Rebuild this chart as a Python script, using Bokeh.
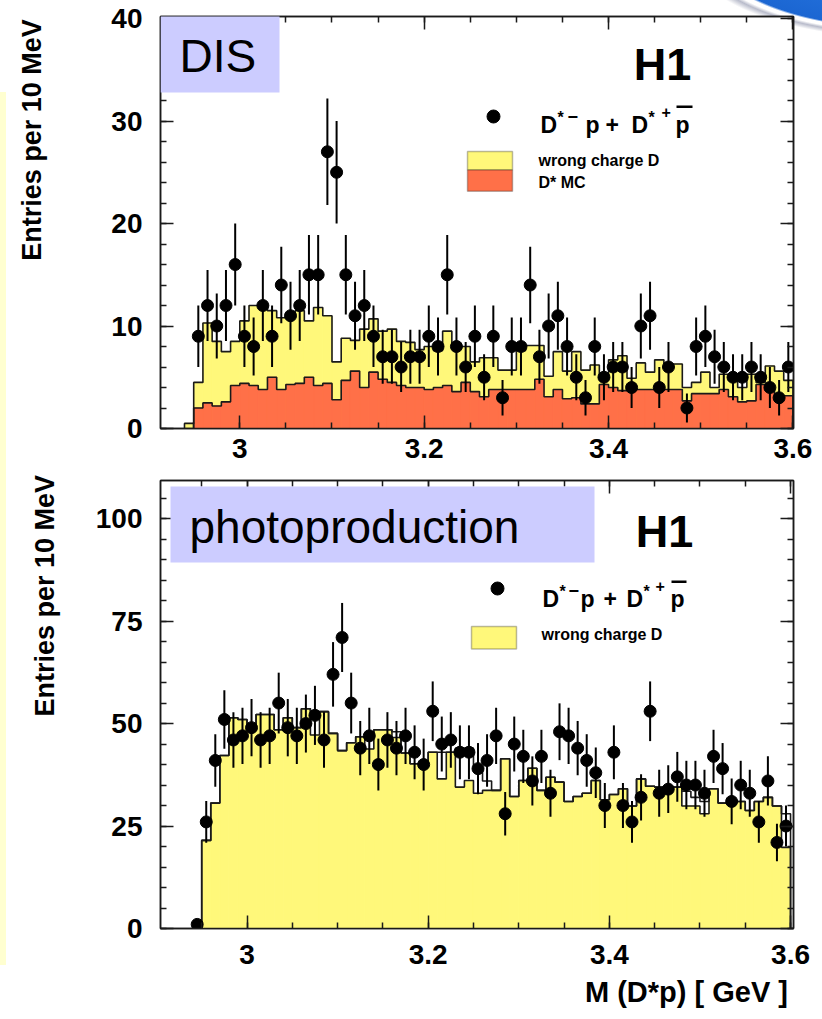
import numpy as np
from bokeh.plotting import figure
from bokeh.models import Range1d, LinearAxis, Label, FixedTicker, BoxAnnotation
from bokeh.layouts import column
from bokeh.embed import file_html
from bokeh.resources import INLINE

# ---------------- data ----------------
# histogram bins: 10 MeV wide, low edges from 2.94 GeV
bin_low = np.round(2.94 + 0.01 * np.arange(66), 3)

dis_wrong_charge = [0.5, 4.5, 10.3, 8.5, 7.5, 8.5, 10.5, 12.0, 12.0, 11.5, 10.8, 11.2, 11.5, 10.5, 11.8, 11.0,
                    6.5, 8.8, 8.6, 9.7, 10.7, 9.5, 9.7, 8.5, 8.4, 7.7, 8.0, 7.6, 9.5, 7.8, 8.0, 6.5,
                    6.9, 6.9, 5.7, 5.7, 7.6, 8.1, 8.1, 5.1, 7.5, 5.6, 7.5, 5.7, 6.2, 4.8, 6.7, 7.1,
                    4.9, 6.4, 5.5, 6.7, 6.3, 6.3, 4.0, 4.5, 5.5, 4.0, 5.3, 4.7, 4.0, 5.3, 4.5, 6.1, 5.6, 4.7]
dis_dstar_mc = [0.0, 2.0, 2.5, 2.2, 2.6, 4.2, 4.4, 4.2, 3.8, 5.0, 3.8, 4.3, 4.4, 5.0, 4.2, 4.4,
                2.8, 4.7, 5.6, 4.0, 5.5, 4.8, 4.5, 4.2, 4.0, 4.0, 3.8, 4.0, 4.2, 3.6, 4.5, 3.6,
                3.1, 3.8, 3.8, 3.8, 3.8, 3.8, 4.8, 3.1, 3.8, 2.9, 3.0, 2.4, 2.4, 4.3, 4.0, 3.7,
                3.8, 3.8, 3.8, 3.8, 3.8, 3.8, 2.7, 3.4, 3.4, 3.4, 3.8, 3.1, 2.6, 2.7, 4.3, 3.7, 3.2, 3.2]
dis_mass = [2.955, 2.965, 2.975, 2.985, 2.995, 3.005, 3.015, 3.025, 3.035, 3.045, 3.055, 3.065, 3.075,
            3.085, 3.095, 3.105, 3.115, 3.125, 3.135, 3.145, 3.155, 3.165, 3.175, 3.185, 3.195, 3.205,
            3.215, 3.225, 3.235, 3.245, 3.255, 3.265, 3.275, 3.285, 3.295, 3.305, 3.315, 3.325, 3.335,
            3.345, 3.355, 3.365, 3.375, 3.385, 3.395, 3.405, 3.415, 3.425, 3.435, 3.445, 3.455, 3.465,
            3.485, 3.495, 3.505, 3.515, 3.525, 3.535, 3.545, 3.555, 3.565, 3.575, 3.585, 3.595]
dis_entries = [9, 12, 10, 12, 16, 9, 8, 12, 9, 14, 11, 12, 15,
               15, 27, 25, 15, 11, 12, 9, 7, 7, 6, 7, 7, 9,
               8, 15, 8, 6, 9, 5, 9, 3, 8, 8, 14, 7, 10,
               11, 8, 5, 3, 8, 5, 6, 6, 4, 10, 11, 4, 6,
               2, 8, 9, 7, 6, 5, 5, 6, 5, 4, 3, 6]

php_wrong_charge = [0.0, 21.5, 30.6, 42.2, 51.4, 51.0, 48.5, 52.2, 52.2, 48.5, 51.4, 49.0, 53.6, 47.2, 52.9, 47.6,
                    43.4, 45.3, 46.8, 43.8, 48.5, 48.5, 46.6, 42.8, 40.2, 40.2, 43.0, 36.5, 43.0, 34.5, 36.1, 33.0,
                    33.7, 33.7, 41.4, 32.2, 36.1, 39.1, 33.7, 36.9, 35.7, 31.0, 32.2, 33.0, 36.1, 31.4, 32.7, 34.1,
                    29.9, 36.5, 34.7, 34.5, 34.5, 34.5, 29.9, 29.9, 28.0, 34.1, 30.6, 31.4, 31.0, 28.8, 31.0, 32.0, 29.9, 19.8]
php_total = [0.0, 21.5, 30.6, 42.2, 51.4, 51.0, 48.5, 52.2, 52.2, 48.5, 51.4, 49.0, 53.6, 52.9, 52.9, 47.6,
             43.4, 45.3, 46.8, 46.6, 48.5, 48.5, 48.0, 42.8, 40.2, 40.2, 43.0, 43.0, 43.0, 44.0, 44.0, 39.3,
             36.0, 33.7, 41.4, 32.2, 36.1, 39.1, 33.7, 36.9, 35.7, 31.0, 32.2, 33.0, 36.1, 31.4, 32.7, 34.1,
             29.9, 36.5, 34.7, 34.5, 34.5, 34.5, 33.5, 32.0, 31.0, 34.1, 30.6, 31.4, 31.0, 28.8, 31.0, 32.0, 29.9, 28.0]
php_mass = [2.945, 2.955, 2.965, 2.975, 2.985, 2.995, 3.005, 3.015, 3.025, 3.035, 3.045, 3.055, 3.065,
            3.075, 3.085, 3.095, 3.105, 3.115, 3.125, 3.135, 3.145, 3.155, 3.165, 3.175, 3.185, 3.195,
            3.205, 3.215, 3.225, 3.235, 3.245, 3.255, 3.265, 3.275, 3.285, 3.295, 3.305, 3.315, 3.325,
            3.335, 3.345, 3.355, 3.365, 3.375, 3.385, 3.395, 3.405, 3.415, 3.425, 3.435, 3.445, 3.455,
            3.465, 3.475, 3.485, 3.495, 3.505, 3.515, 3.525, 3.535, 3.545, 3.555, 3.565, 3.575, 3.585, 3.595]
php_entries = [1, 26, 41, 51, 46, 47, 49, 46, 47, 55, 49, 47, 50,
               52, 46, 62, 71, 55, 44, 47, 40, 46, 44, 47, 43, 40,
               53, 45, 46, 43, 43, 39, 41, 47, 28, 45, 42, 36, 42,
               33, 48, 47, 44, 41, 38, 30, 43, 30, 26, 32, 53, 33,
               34, 37, 35, 35, 33, 42, 39, 31, 35, 33, 26, 36, 21, 25]

x_ticks = [3.0, 3.2, 3.4, 3.6]
x_tick_labels = {3.0: "3", 3.2: "3.2", 3.4: "3.4", 3.6: "3.6"}
dis_y_ticks = [0, 10, 20, 30, 40]
php_y_ticks = [0, 25, 50, 75, 100]
y_title = "Entries per 10 MeV"
x_title = "M (D*p) [ GeV ]"

# ---------------- style / geometry ----------------
FONT = "Liberation Sans"
YELLOW = "#fff87a"
ORANGE = "#ff7048"
LAVENDER = "#ccccff"
LINE = "#1a1a1a"
BIN_W = 0.01
NBSP = "\u00a0"
W = 822
F_LEFT, F_RIGHT = 160, 793          # common frame edges (column aligns frames)
B_LEFT, B_RIGHT = F_LEFT, W - F_RIGHT
# per panel: pixel of x=3.0 and pixels per GeV, as measured on the reference
T_X0, T_SC = 239.3, 921.9
P_X0, P_SC = 246.5, 905.9
T_XR = (3 + (F_LEFT - T_X0) / T_SC, 3 + (F_RIGHT - T_X0) / T_SC)
P_XR = (3 + (F_LEFT - P_X0) / P_SC, 3 + (F_RIGHT - P_X0) / P_SC)


def step_outline(lows, vals):
    xs, ys = [lows[0]], [0.0]
    for lo, v in zip(lows, vals):
        xs += [lo, lo + BIN_W]
        ys += [v, v]
    xs.append(lows[-1] + BIN_W)
    ys.append(0.0)
    return xs, ys


def style_axis(a, show_labels):
    a.axis_line_color = LINE
    a.axis_line_width = 1.5
    a.major_tick_in = 13
    a.major_tick_out = 0
    a.minor_tick_in = 6
    a.minor_tick_out = 0
    a.major_tick_line_color = LINE
    a.minor_tick_line_color = LINE
    a.major_tick_line_width = 1.5
    a.minor_tick_line_width = 1.5
    if show_labels:
        a.major_label_text_font = FONT
        a.major_label_text_font_style = "bold"
        a.major_label_text_font_size = "28px"
        a.major_label_text_color = "black"
        a.axis_label_text_font = FONT
        a.axis_label_text_font_style = "bold"
        a.axis_label_text_color = "black"
    else:
        a.major_label_text_color = None
        a.major_label_text_font_size = "1px"
        a.major_label_standoff = 0


def make_fig(height, b_top, b_bottom, xr, ymax, yticks, yminor, xstand, ylab_stand, ylab_pad):
    p = figure(width=W, height=height, x_range=Range1d(*xr), y_range=Range1d(0, ymax),
               output_backend="svg", toolbar_location=None,
               min_border_left=B_LEFT, min_border_right=B_RIGHT,
               min_border_top=b_top, min_border_bottom=b_bottom)
    p.xgrid.visible = False
    p.ygrid.visible = False
    p.outline_line_color = LINE
    p.outline_line_width = 1.5
    p.background_fill_color = "white"
    p.border_fill_color = None
    xminor = list(np.round(np.arange(2.95, 3.6001, 0.05), 3))
    xt = FixedTicker(ticks=x_ticks, minor_ticks=xminor)
    yt = FixedTicker(ticks=yticks, minor_ticks=yminor)

    ax = p.below[0]
    ay = p.left[0]
    ax.ticker = xt
    ax.major_label_overrides = x_tick_labels
    ay.ticker = yt
    style_axis(ax, True)
    style_axis(ay, True)
    ax.major_label_standoff = xstand
    ay.major_label_standoff = 18
    # leading no-break spaces push the rotated title towards the top, as in the original
    ay.axis_label = NBSP * ylab_pad + y_title
    ay.axis_label_text_font_size = "27px"
    ay.axis_label_standoff = ylab_stand

    top_ax = LinearAxis(ticker=xt)
    right_ax = LinearAxis(ticker=yt)
    style_axis(top_ax, False)
    style_axis(right_ax, False)
    p.add_layout(top_ax, "above")
    p.add_layout(right_ax, "right")
    return p, ax, ay


def text(p, s, x, y, size, bold=True, align="left", baseline="middle"):
    p.add_layout(Label(x=x, y=y, text=s, text_font=FONT, text_font_size=f"{size}px",
                       text_font_style="bold" if bold else "normal", text_color="black",
                       text_align=align, text_baseline=baseline))


def errorbars(p, xs, ns):
    xs = np.asarray(xs, float)
    ns = np.asarray(ns, float)
    err = np.sqrt(ns)
    p.segment(x0=xs, y0=ns - err, x1=xs, y1=ns + err, line_color="black", line_width=2)
    p.scatter(x=xs, y=ns, size=12, marker="circle", fill_color="black", line_color="black")


def box(p, l, r, t, b, color, outline=False):
    p.add_layout(BoxAnnotation(left=l, right=r, top=t, bottom=b, fill_color=color, fill_alpha=1.0,
                               line_color=LINE if outline else None, line_width=1.5))


# ---------------- top panel: DIS ----------------
T_H, T_T, T_B = 470, 16, 42
T_YMAX = 40.2
top, top_x, top_y = make_fig(T_H, T_T, T_B, T_XR, T_YMAX, dis_y_ticks, list(range(0, 41, 2)),
                             10, 61, 22)
fh_t = T_H - T_T - T_B


def tx(px):
    return 3 + (px - T_X0) / T_SC


def ty(py):
    return (T_T + fh_t - py) / fh_t * T_YMAX


top.quad(left=bin_low, right=bin_low + BIN_W, bottom=0, top=dis_wrong_charge,
         fill_color=YELLOW, line_color=YELLOW, line_width=1)
top.quad(left=bin_low, right=bin_low + BIN_W, bottom=0, top=dis_dstar_mc,
         fill_color=ORANGE, line_color=ORANGE, line_width=1)
xs, ys = step_outline(bin_low, dis_wrong_charge)
top.line(xs, ys, line_color=LINE, line_width=1.6)
xs, ys = step_outline(bin_low, dis_dstar_mc)
top.line(xs, ys, line_color=LINE, line_width=1.6)
errorbars(top, dis_mass, dis_entries)

box(top, tx(160), tx(279), ty(15), ty(92), LAVENDER)
text(top, "DIS", tx(179), ty(55), 46, bold=False)
text(top, "H1", tx(662), ty(64), 45, align="center")
top.scatter(x=[tx(493)], y=[ty(116)], size=13, marker="circle", fill_color="black", line_color="black")
base = 124
text(top, "D", tx(540), ty(base), 23, baseline="alphabetic")
text(top, "*", tx(557), ty(base - 7), 16, baseline="alphabetic")
text(top, "\u2212", tx(567), ty(base - 8), 18, baseline="alphabetic")
text(top, "p", tx(585), ty(base), 23, baseline="alphabetic")
text(top, "+", tx(605), ty(base), 23, baseline="alphabetic")
text(top, "D", tx(631), ty(base), 23, baseline="alphabetic")
text(top, "*", tx(648), ty(base - 7), 16, baseline="alphabetic")
text(top, "+", tx(661), ty(base - 13), 16, baseline="alphabetic")
text(top, "p", tx(675), ty(base), 23, baseline="alphabetic")
box(top, tx(676), tx(692), ty(105), ty(107.5), "black")
box(top, tx(467), tx(512), ty(151), ty(169.6), YELLOW, outline=True)
box(top, tx(467), tx(512), ty(169.6), ty(190.7), ORANGE, outline=True)
text(top, "wrong charge D", tx(538), ty(160), 16)
text(top, "D* MC", tx(538), ty(182), 16)

# ---------------- bottom panel: photoproduction ----------------
B_H, B_T, B_B = 549, 10, 91
P_YMAX = 109.3
bot, bot_x, bot_y = make_fig(B_H, B_T, B_B, P_XR, P_YMAX, php_y_ticks, list(range(0, 110, 5)),
                             16, 33, 29)
# leading no-break spaces right-align the x title under the right end of the axis
bot_x.axis_label = NBSP * 52 + x_title
bot_x.axis_label_text_font_size = "29px"
bot_x.axis_label_standoff = 9
fh_b = B_H - B_T - B_B
OFF = T_H  # page y offset of the bottom figure


def bx(px):
    return 3 + (px - P_X0) / P_SC


def by(py):
    return (OFF + B_T + fh_b - py) / fh_b * P_YMAX


bot.quad(left=bin_low, right=bin_low + BIN_W, bottom=0, top=php_wrong_charge,
         fill_color=YELLOW, line_color=YELLOW, line_width=1)
xs, ys = step_outline(bin_low, php_total)
bot.line(xs, ys, line_color=LINE, line_width=1.6)
xs, ys = step_outline(bin_low, php_wrong_charge)
bot.line(xs, ys, line_color=LINE, line_width=1.6)
errorbars(bot, php_mass, php_entries)

box(bot, bx(170), bx(594), by(486), by(562), LAVENDER)
text(bot, "photoproduction", bx(189), by(526), 46, bold=False)
text(bot, "H1", bx(664), by(531), 45, align="center")
bot.scatter(x=[bx(497)], y=[by(588)], size=13, marker="circle", fill_color="black", line_color="black")
base = 598
text(bot, "D", bx(542), by(base), 23, baseline="alphabetic")
text(bot, "*", bx(559), by(base - 7), 16, baseline="alphabetic")
text(bot, "\u2212", bx(568), by(base - 8), 18, baseline="alphabetic")
text(bot, "p", bx(580), by(base), 23, baseline="alphabetic")
text(bot, "+", bx(603), by(base), 23, baseline="alphabetic")
text(bot, "D", bx(626), by(base), 23, baseline="alphabetic")
text(bot, "*", bx(643), by(base - 7), 16, baseline="alphabetic")
text(bot, "+", bx(655), by(base - 13), 16, baseline="alphabetic")
text(bot, "p", bx(670), by(base), 23, baseline="alphabetic")
box(bot, bx(671), bx(686), by(580), by(582.5), "black")
box(bot, bx(471), bx(516), by(626), by(648.5), YELLOW, outline=True)
text(bot, "wrong charge D", bx(541), by(634), 16)

page_bg = {
    "background-color": "white",
    "background-image": ("radial-gradient(ellipse 200px 83px at 900px -50px, #2f80ea 0%, #1b66d2 93%, "
                         "#ffffff 95%, #ffffff 98%, #b9bccb 101%, rgba(255,255,255,0) 106%), "
                         "linear-gradient(#ffffd0, #ffffd0)"),
    "background-size": "auto, 6px 873px",
    "background-position": "0 0, 0 92px",
    "background-repeat": "no-repeat, no-repeat",
}
layout = column(top, bot, spacing=0, styles=page_bg)
open("out.html", "w").write(file_html(layout, INLINE))
